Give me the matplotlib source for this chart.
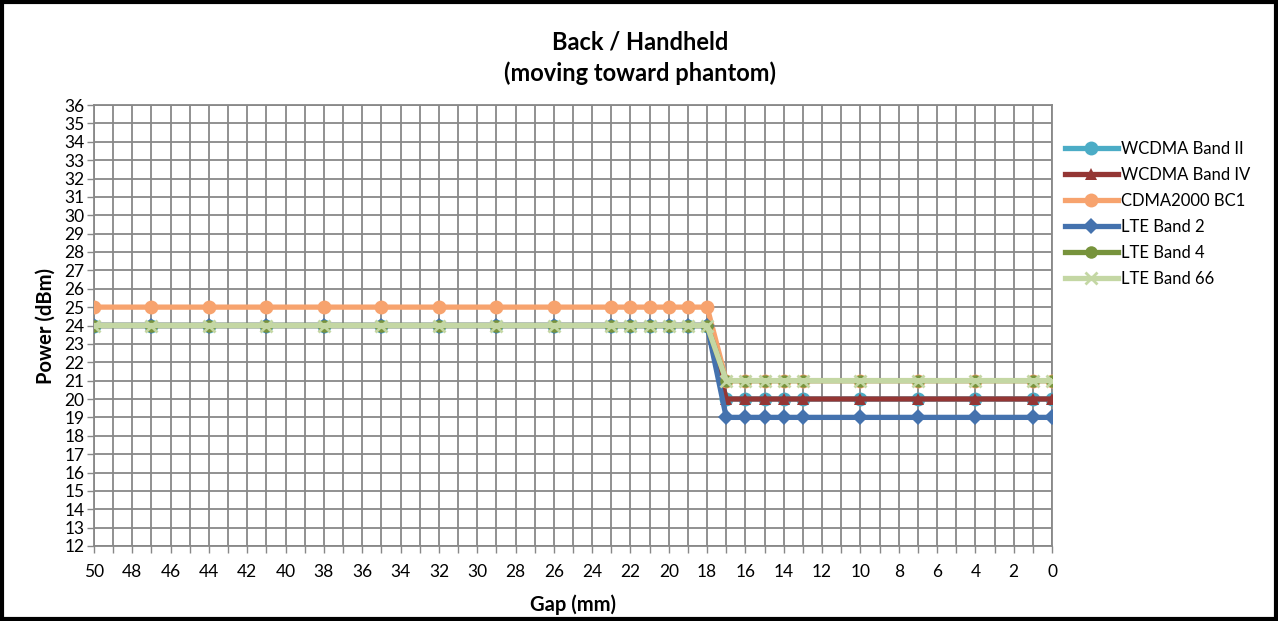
import matplotlib
matplotlib.use("Agg")
import matplotlib.pyplot as plt
from matplotlib.patches import Rectangle

gap = [50, 47, 44, 41, 38, 35, 32, 29, 26, 23, 22, 21, 20, 19, 18,
       17, 16, 15, 14, 13, 10, 7, 4, 1, 0]
n_hi = 15
n_lo = 10
wcdma2 = [24] * n_hi + [20] * n_lo
wcdma4 = [24] * n_hi + [20] * n_lo
cdma = [25] * n_hi + [21] * n_lo
lte2 = [24] * n_hi + [19] * n_lo
lte4 = [24] * n_hi + [21] * n_lo
lte66 = [24] * n_hi + [21] * n_lo

series = [
    ("WCDMA Band II", wcdma2, "#4BACC6", "o", 10),
    ("WCDMA Band IV", wcdma4, "#943634", "^", 9),
    ("CDMA2000 BC1", cdma, "#F7A36E", "o", 10),
    ("LTE Band 2", lte2, "#4472AE", "D", 8),
    ("LTE Band 4", lte4, "#77933C", "o", 9),
    ("LTE Band 66", lte66, "#C4D7A4", "x", 8),
]

plt.rcParams['font.family'] = ['Lato', 'DejaVu Sans']

fig = plt.figure(figsize=(12.78, 6.21), dpi=100)
ax = fig.add_axes([94/1278, 1-546/621, (1052-94)/1278, (546-105)/621])

for name, vals, col, mk, ms in series:
    ax.plot(gap, vals, color=col, lw=3.8, marker=mk, ms=ms, mew=2 if mk == "x" else 0,
            mec=col, label=name, zorder=3)

ax.set_xlim(50, 0)
ax.set_ylim(12, 36)
ax.set_xticks(range(50, -1, -2))
ax.set_xticks(range(50, -1, -1), minor=True)
ax.set_yticks(range(12, 37))
ax.grid(True, which='both', color='#888888', lw=1.3)
ax.set_axisbelow(True)
for s in ax.spines.values():
    s.set_color('#888888')
    s.set_linewidth(1.3)
ax.tick_params(axis='both', which='both', colors='#888888', labelcolor='black', labelsize=12.5, length=5, width=1)
ax.tick_params(axis='x', which='major', pad=8)
ax.tick_params(axis='y', pad=2)

ax.set_xlabel("Gap (mm)", fontsize=14.5, fontweight='bold', labelpad=10)
ax.set_ylabel("Power (dBm)", fontsize=14.5, fontweight='bold', labelpad=6)

fig.text(640/1278, 1-42/621, "Back / Handheld", ha='center', va='center', fontsize=17, fontweight='bold')
fig.text(640/1278, 1-73/621, "(moving toward phantom)", ha='center', va='center', fontsize=17, fontweight='bold')

leg = ax.legend(loc='upper left', bbox_to_anchor=(1058/1278, 1-134/621), bbox_transform=fig.transFigure,
                frameon=False, fontsize=12, handlelength=3.2, handletextpad=0.2, labelspacing=0.6,
                borderaxespad=0)

fig.patches.append(Rectangle((0.0015, 0.003), 0.997, 0.994, transform=fig.transFigure,
                             fill=False, ec='black', lw=3))

fig.savefig("out.png", dpi=100)
